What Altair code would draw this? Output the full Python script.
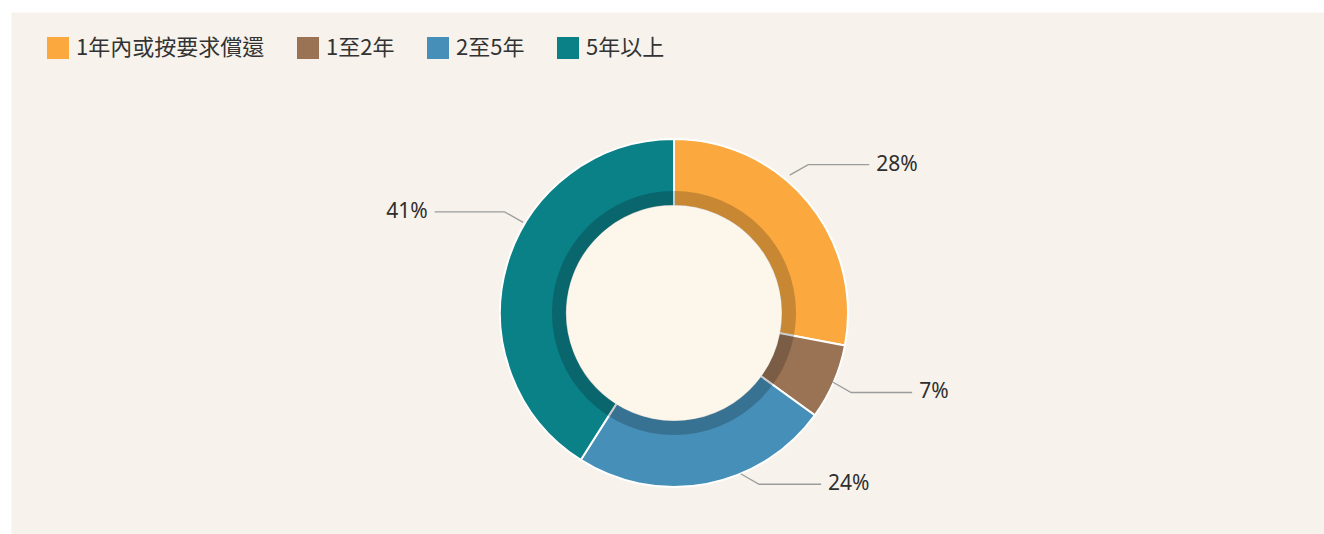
import math
import altair as alt
import pandas as pd

# ---- data ----
categories = ["1年內或按要求償還", "1至2年", "2至5年", "5年以上"]
values = [28, 7, 24, 41]
pct_labels = ["28%", "7%", "24%", "41%"]

# ---- style / layout ----
colors = ["#FBA93F", "#9A7355", "#468FB8", "#0A8087"]
panel_bg = "#F7F3EC"
inner_bg = "#FDF6EB"
W, H = 1313, 522          # panel (view) size
PAD_L, PAD_T = 11, 12
CX, CY = 663, 301         # donut centre in view coords
R_OUT, R_IN, R_DARK = 174, 107, 122
leader_angle = [40, 113.5, 157.5, 301]   # degrees clockwise from top
leader_r = [180, 173, 174, 176]
leader_h = [61, 61, 62, 70]
SEG_DX, SEG_DY = 18.5, 10.5
TEXT_GAP = 7

df = pd.DataFrame({"cat": categories, "value": values, "idx": list(range(len(values)))})

donut = alt.Chart(df).mark_arc(
    outerRadius=R_OUT, innerRadius=R_IN, stroke="white", strokeWidth=2
).encode(
    theta=alt.Theta("value:Q", stack=True),
    order=alt.Order("idx:Q"),
    color=alt.Color(
        "cat:N",
        sort=categories,
        scale=alt.Scale(domain=categories, range=colors),
        legend=alt.Legend(
            title=None, orient="none", legendX=36, legendY=25,
            direction="horizontal", symbolType="square", symbolSize=484,
            symbolStrokeWidth=0, labelFontSize=22, labelFont="Noto Sans CJK TC",
            labelColor="#333333", labelOffset=7, columnPadding=32,
            labelLimit=400, padding=0,
        ),
    ),
    x=alt.value(CX), y=alt.value(CY),
)

one = pd.DataFrame({"k": [0]})
dark_ring = alt.Chart(one).mark_arc(
    outerRadius=R_DARK, innerRadius=R_IN, theta=0, theta2=2 * math.pi,
    color="black", opacity=0.2, strokeWidth=0,
).encode(x=alt.value(CX), y=alt.value(CY))

inner = alt.Chart(one).mark_arc(
    outerRadius=R_IN + 0.5, innerRadius=0, theta=0, theta2=2 * math.pi,
    color=inner_bg, strokeWidth=0,
).encode(x=alt.value(CX), y=alt.value(CY))

# leader lines and label positions derived from angles
line_rows, text_rows = [], []
for i, lab in enumerate(pct_labels):
    a = math.radians(leader_angle[i])
    sx = CX + leader_r[i] * math.sin(a)
    sy = CY - leader_r[i] * math.cos(a)
    side = 1 if math.sin(a) >= 0 else -1
    vert = -1 if math.cos(a) > 0 else 1
    ex, ey = sx + side * SEG_DX, sy + vert * SEG_DY
    hx = ex + side * leader_h[i]
    for j, (px, py) in enumerate([(sx, sy), (ex, ey), (hx, ey)]):
        line_rows.append({"label": lab, "o": j, "px": px, "py": py})
    text_rows.append({"label": lab, "tx": hx + side * TEXT_GAP, "ty": ey,
                      "side": "r" if side > 0 else "l"})

lines_df = pd.DataFrame(line_rows)
text_df = pd.DataFrame(text_rows)

leaders = alt.Chart(lines_df).mark_line(color="#9C9C9C", strokeWidth=1.3).encode(
    x=alt.X("px:Q", scale=None, axis=None),
    y=alt.Y("py:Q", scale=None, axis=None),
    detail="label:N",
    order="o:Q",
)

def texts(side, align):
    return alt.Chart(text_df[text_df["side"] == side]).mark_text(
        align=align, baseline="middle", fontSize=21, font="Noto Sans", color="#2E2E2E"
    ).encode(
        x=alt.X("tx:Q", scale=None, axis=None),
        y=alt.Y("ty:Q", scale=None, axis=None),
        text="label:N",
    )

chart = alt.layer(
    donut, dark_ring, inner, leaders, texts("r", "left"), texts("l", "right")
).properties(
    width=W, height=H,
    padding={"left": PAD_L, "top": PAD_T, "right": 0, "bottom": 0},
    autosize=alt.AutoSizeParams(type="none"),
    background="white",
).configure_view(fill=panel_bg, stroke="transparent")

chart.save("out.html", embed_options={"renderer": "svg", "actions": False})
